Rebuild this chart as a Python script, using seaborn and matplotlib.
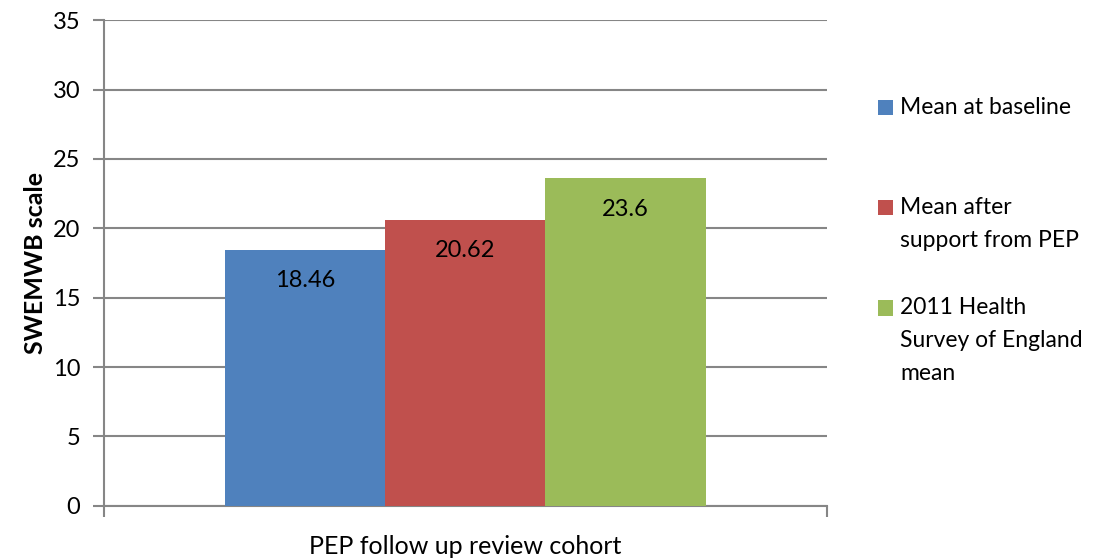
import matplotlib
matplotlib.use("Agg")
import matplotlib.pyplot as plt
import seaborn as sns
import pandas as pd
from matplotlib.patches import Patch

cohort = ["PEP follow up review cohort"]
series = ["Mean at baseline", "Mean after\nsupport from PEP", "2011 Health\nSurvey of England\nmean"]
values = [18.46, 20.62, 23.6]
value_labels = ["18.46", "20.62", "23.6"]
colors = ["#4F81BD", "#C0504D", "#9BBB59"]
yticks = [0, 5, 10, 15, 20, 25, 30, 35]

sns.set_theme(style="white")
plt.rcParams["font.family"] = ["Lato", "DejaVu Sans"]

df = pd.DataFrame({"cohort": cohort * len(series), "series": series, "value": values})

DPI = 100
fig = plt.figure(figsize=(10.95, 5.59), dpi=DPI)
ax = fig.add_axes([0.095, 0.095, 0.66, 0.869])

grid_c = "#868686"
sns.barplot(data=df, x="cohort", y="value", hue="series", hue_order=series,
            palette=colors, width=0.665, dodge=True, saturation=1,
            errorbar=None, ax=ax, legend=False, zorder=3, linewidth=0)

for cont, lab in zip(ax.containers, value_labels):
    ax.bar_label(cont, labels=[lab], label_type="edge", padding=-30,
                 fontsize=17, color="black")

ax.set_ylim(0, 35)
ax.set_yticks(yticks)
ax.set_xlim(-0.5, 0.5)
ax.yaxis.grid(True, color=grid_c, linewidth=1.5, zorder=0)
ax.set_axisbelow(True)
for s in ["top", "right"]:
    ax.spines[s].set_visible(False)
for s in ["left", "bottom"]:
    ax.spines[s].set_color(grid_c)
    ax.spines[s].set_linewidth(1.5)
ax.tick_params(axis="y", which="major", left=True, length=8, width=1.5,
               color=grid_c, labelsize=17, pad=9, labelcolor="black")
ax.tick_params(axis="x", which="major", bottom=False, labelsize=18, pad=15,
               labelcolor="black")
ax.set_xticks([-0.5, 0.5], minor=True)
ax.tick_params(axis="x", which="minor", bottom=True, length=8, width=1.5, color=grid_c)
ax.set_xlabel("")
ax.set_ylabel("SWEMWB scale", fontsize=18, fontweight="bold", labelpad=4, color="black")

handles = [Patch(facecolor=c, edgecolor="none") for c in colors]
leg_tops = [0.826, 0.647, 0.468]
legends = []
for h, lab, y in zip(handles, series, leg_tops):
    lg = fig.legend([h], [lab], loc="upper left", bbox_to_anchor=(0.802, y),
                    frameon=False, fontsize=16.5, handlelength=0.65, handleheight=0.65,
                    handletextpad=0.3, borderpad=0, borderaxespad=0)
    for t in lg.get_texts():
        t.set_linespacing(1.68)
        t.set_color("black")
    legends.append(lg)

# align each legend square with the first line of its label
fig.canvas.draw()
single_h = legends[0].get_texts()[0].get_window_extent().height
for lg in legends:
    t = lg.get_texts()[0]
    p = lg.get_patches()[0]
    tbb = t.get_window_extent()
    pbb = p.get_window_extent()
    target = tbb.y1 - single_h / 2
    delta_px = target - (pbb.y0 + pbb.y1) / 2
    p.set_y(p.get_y() + delta_px * 72.0 / DPI)

fig.savefig("out.png", dpi=DPI)
